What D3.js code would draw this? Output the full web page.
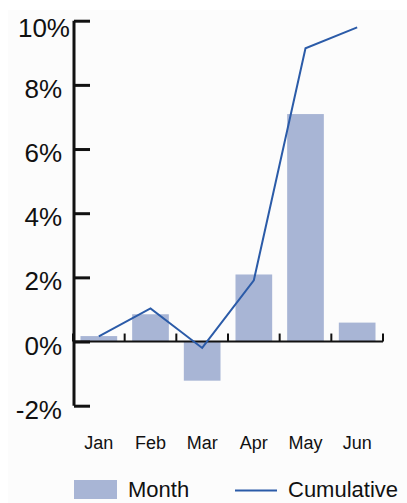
<!DOCTYPE html>
<html>
<head>
<meta charset="utf-8">
<script src="https://cdnjs.cloudflare.com/ajax/libs/d3/7.8.5/d3.min.js"></script>
<style>
	body { margin: 0; background: #fff; }
	svg { display: block; font-family: "Liberation Sans", Arial, sans-serif; }
</style>
</head>
<body>
<div id="chart"></div>
<script>
var months = ["Jan", "Feb", "Mar", "Apr", "May", "Jun"];
var monthVals = [0.17, 0.85, -1.22, 2.09, 7.09, 0.59];
var cumVals = [0.16, 1.03, -0.20, 1.91, 9.14, 9.79];
var yTicks = [-2, 0, 2, 4, 6, 8, 10];
var legendLabels = ["Month", "Cumulative"];

var width = 407,
		height = 503;

var svg = d3.select("#chart").append("svg")
	.attr("width", width).attr("height", height);

// faint panel behind the chart
svg.append("rect").attr("x", 8).attr("y", 10)
	.attr("width", width - 8).attr("height", height - 10)
	.attr("fill", "#fcfcfc");

var x = d3.scaleBand().domain(months).range([73, 383]).paddingInner(0.29).paddingOuter(0.145);
var xc = d3.scaleBand().domain(months).range([73, 383]);
var y = d3.scaleLinear().domain([-2, 10]).range([405.7, 20.7]);

// bars
svg.append("g").selectAll("rect").data(months).enter().append("rect")
	.attr("x", function(d) { return x(d); })
	.attr("width", x.bandwidth())
	.attr("y", function(d, i) { return y(Math.max(0, monthVals[i])); })
	.attr("height", function(d, i) { return Math.abs(y(monthVals[i]) - y(0)); })
	.attr("fill", "#a8b5d5");

// y axis
var yAxis = d3.axisRight(y).tickValues(yTicks).tickSize(16).tickFormat(function(d) { return ""; });
var gy = svg.append("g").attr("transform", "translate(74,0)").call(yAxis);
gy.select(".domain").attr("stroke", "#111").attr("stroke-width", 3)
	.attr("d", "M0," + y(-2) + "V" + y(10));
gy.selectAll(".tick line").attr("stroke", "#111").attr("stroke-width", 3);

svg.append("g").selectAll("text").data(yTicks).enter().append("text")
	.attr("x", function(d) { return d === 10 ? 70 : 62; })
	.attr("y", function(d) { return y(d) + (d === 10 ? 7 : 4); })
	.attr("dy", "0.35em")
	.attr("text-anchor", "end")
	.attr("font-size", 26)
	.attr("fill", "#111")
	.text(function(d) { return d + "%"; });

// x axis at zero with small upward ticks at band edges
var xAxis = svg.append("g");
xAxis.append("line").attr("x1", xc.range()[0]).attr("x2", xc.range()[1])
	.attr("y1", y(0)).attr("y2", y(0)).attr("stroke", "#111").attr("stroke-width", 2);
xAxis.selectAll("line.tk").data(months.concat(["end"])).enter().append("line").attr("class", "tk")
	.attr("x1", function(d, i) { return i < months.length ? xc(d) : xc.range()[1]; })
	.attr("x2", function(d, i) { return i < months.length ? xc(d) : xc.range()[1]; })
	.attr("y1", y(0)).attr("y2", y(0) - 8)
	.attr("stroke", "#111").attr("stroke-width", 2);

svg.append("g").selectAll("text").data(months).enter().append("text")
	.attr("x", function(d) { return xc(d) + xc.bandwidth() / 2; })
	.attr("y", 443)
	.attr("dy", "0.35em")
	.attr("text-anchor", "middle")
	.attr("font-size", 18)
	.attr("fill", "#111")
	.text(function(d) { return d; });

// cumulative line
var line = d3.line()
	.x(function(d, i) { return xc(months[i]) + xc.bandwidth() / 2; })
	.y(function(d) { return y(d); });
svg.append("path").datum(cumVals).attr("d", line)
	.attr("fill", "none").attr("stroke", "#2b5ba8").attr("stroke-width", 2);

// legend
var lg = svg.append("g");
lg.append("rect").attr("x", 74).attr("y", 480).attr("width", 43).attr("height", 19).attr("fill", "#a8b5d5");
lg.append("text").attr("x", 128).attr("y", 497).attr("font-size", 22).attr("fill", "#111").text(legendLabels[0]);
lg.append("line").attr("x1", 235).attr("x2", 277).attr("y1", 490.5).attr("y2", 490.5)
	.attr("stroke", "#2b5ba8").attr("stroke-width", 2);
lg.append("text").attr("x", 288).attr("y", 497).attr("font-size", 22).attr("fill", "#111").text(legendLabels[1]);
</script>
</body>
</html>
